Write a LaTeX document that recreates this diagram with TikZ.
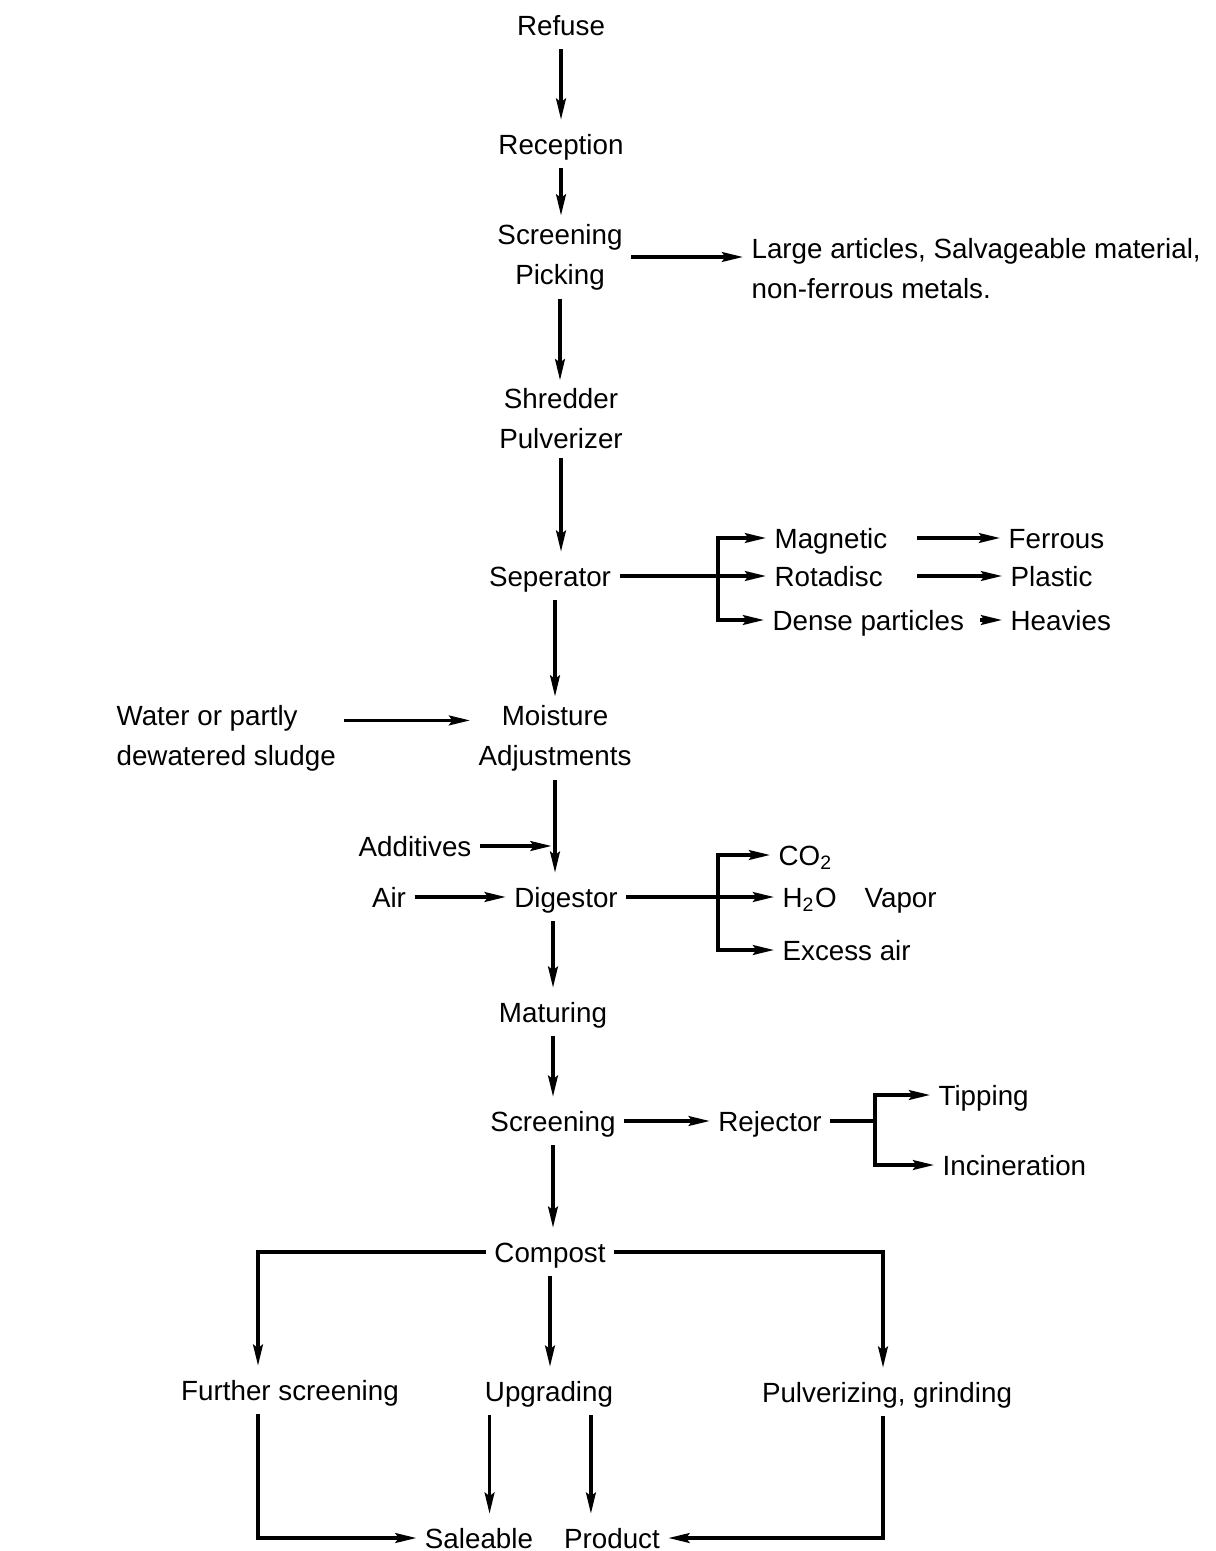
\documentclass[tikz,border=0pt]{standalone}
\usepackage{fontspec}
\setmainfont{Liberation Sans}
\usetikzlibrary{arrows.meta}
\begin{document}
\begin{tikzpicture}[y=-1cm,>={Stealth[length=6pt,width=2.8pt,inset=1pt]},line width=0.9pt,
  every node/.style={font=\fontsize{7.9}{11.4}\selectfont,inner sep=2pt,text height=1.4ex,text depth=.3ex},
  two/.style={align=center,text height={},text depth={}},
  lbl/.style={anchor=west,align=left}]
\useasboundingbox (0,0) rectangle (12.16,15.51);
\node (refuse) at (5.61,0.25){Refuse};
\node (reception) at (5.61,1.44){Reception};
\node[two] (pick) at (5.60,2.57){Screening\\Picking};
\node[two,lbl] (large) at (7.43,2.69){Large articles, Salvageable material,\\non-ferrous metals.};
\node[two] (shred) at (5.61,4.19){Shredder\\Pulverizer};
\node (sep) at (5.50,5.76){Seperator};
\node[lbl] (magnetic) at (7.66,5.38){Magnetic};
\node[lbl] (rotadisc) at (7.66,5.76){Rotadisc};
\node[lbl] (dense) at (7.64,6.20){Dense particles};
\node[lbl] (ferrous) at (10.00,5.38){Ferrous};
\node[lbl] (plastic) at (10.02,5.76){Plastic};
\node[lbl] (heavies) at (10.02,6.20){Heavies};
\node[two] (moist) at (5.55,7.38){Moisture\\Adjustments};
\node[two,lbl] (water) at (1.08,7.38){Water or partly\\dewatered sludge};
\node (additives) at (4.15,8.46){Additives};
\node (air) at (3.89,8.97){Air};
\node (digest) at (5.66,8.97){Digestor};
\node[lbl] (co2) at (7.70,8.55){CO\textsubscript{2}};
\node[lbl] (h2o) at (7.74,8.97){H\textsubscript{2}O\quad Vapor};
\node[lbl] (excess) at (7.74,9.50){Excess air};
\node (matur) at (5.53,10.12){Maturing};
\node (screen) at (5.53,11.21){Screening};
\node (reject) at (7.70,11.21){Rejector};
\node[lbl] (tipping) at (9.30,10.95){Tipping};
\node[lbl] (incin) at (9.34,11.65){Incineration};
\node (compost) at (5.50,12.52){Compost};
\node (further) at (2.90,13.90){Further screening};
\node (upgrade) at (5.49,13.91){Upgrading};
\node (pulver) at (8.87,13.92){Pulverizing, grinding};
\node (saleable) at (4.79,15.38){Saleable};
\node (product) at (6.12,15.38){Product};
\coordinate (sepj) at (7.18,5.76);
\coordinate (digj) at (7.18,8.97);
\coordinate (rejj) at (8.75,11.21);
\coordinate (fl) at (2.58,12.52);
\coordinate (fr) at (8.83,12.52);
\coordinate (addj) at (moist.south |- additives.east);
\draw[->](refuse.south)--(refuse.south |- reception.north);
\draw[->](reception.south)--(reception.south |- pick.north);
\draw[->](pick.east)--(large.west |- pick.east);
\draw[->](pick.south)--(pick.south |- shred.north);
\draw[->](shred.south)--(shred.south |- sep.north);
\draw(sep.east)--(sepj);
\draw[->](sepj)|-(magnetic.west);
\draw[->](sepj)--(rotadisc.west);
\draw[->](sepj)|-(dense.west);
\draw[->]([xshift=6pt]magnetic.east)--(ferrous.west);
\draw[->]([xshift=6pt]magnetic.east |- rotadisc)--(plastic.west);
\draw[->]([xshift=2pt]dense.east)--(heavies.west);
\draw[->](sep.south -| moist)--(moist.north);
\draw[->]([yshift=5pt]water.east)--([yshift=5pt]moist.west);
\draw[->](moist.south)--(moist.south |- digest.north);
\draw[->](additives.east)--([xshift=-1pt]addj);
\draw[->](air.east)--(digest.west);
\draw(digest.east)--(digj);
\draw[->](digj)|-(co2.west);
\draw[->](digj)--(h2o.west);
\draw[->](digj)|-(excess.west);
\draw[->](digest.south -| matur)--(matur.north);
\draw[->](matur.south)--(screen.north);
\draw[->](screen.east)--(reject.west);
\draw(reject.east)--(rejj);
\draw[->](rejj)|-(tipping.west);
\draw[->](rejj)|-(incin.west);
\draw[->](screen.south)--(screen.south |- compost.north);
\draw[->](compost.west)--(fl)--(fl |- further.north);
\draw[->](compost.east)--(fr)--(fr |- pulver.north);
\draw[->](compost.south)--(compost.south |- upgrade.north);
\draw[->](further.south -| fl)--(fl |- saleable)--(saleable.west);
\draw[->](pulver.south -| fr)--(fr |- product)--(product.east);
\draw[->]([xshift=3pt]saleable.north |- upgrade.south)--([xshift=3pt]saleable.north);
\draw[->]([xshift=-6pt]product.north |- upgrade.south)--([xshift=-6pt]product.north);
\end{tikzpicture}
\end{document}
